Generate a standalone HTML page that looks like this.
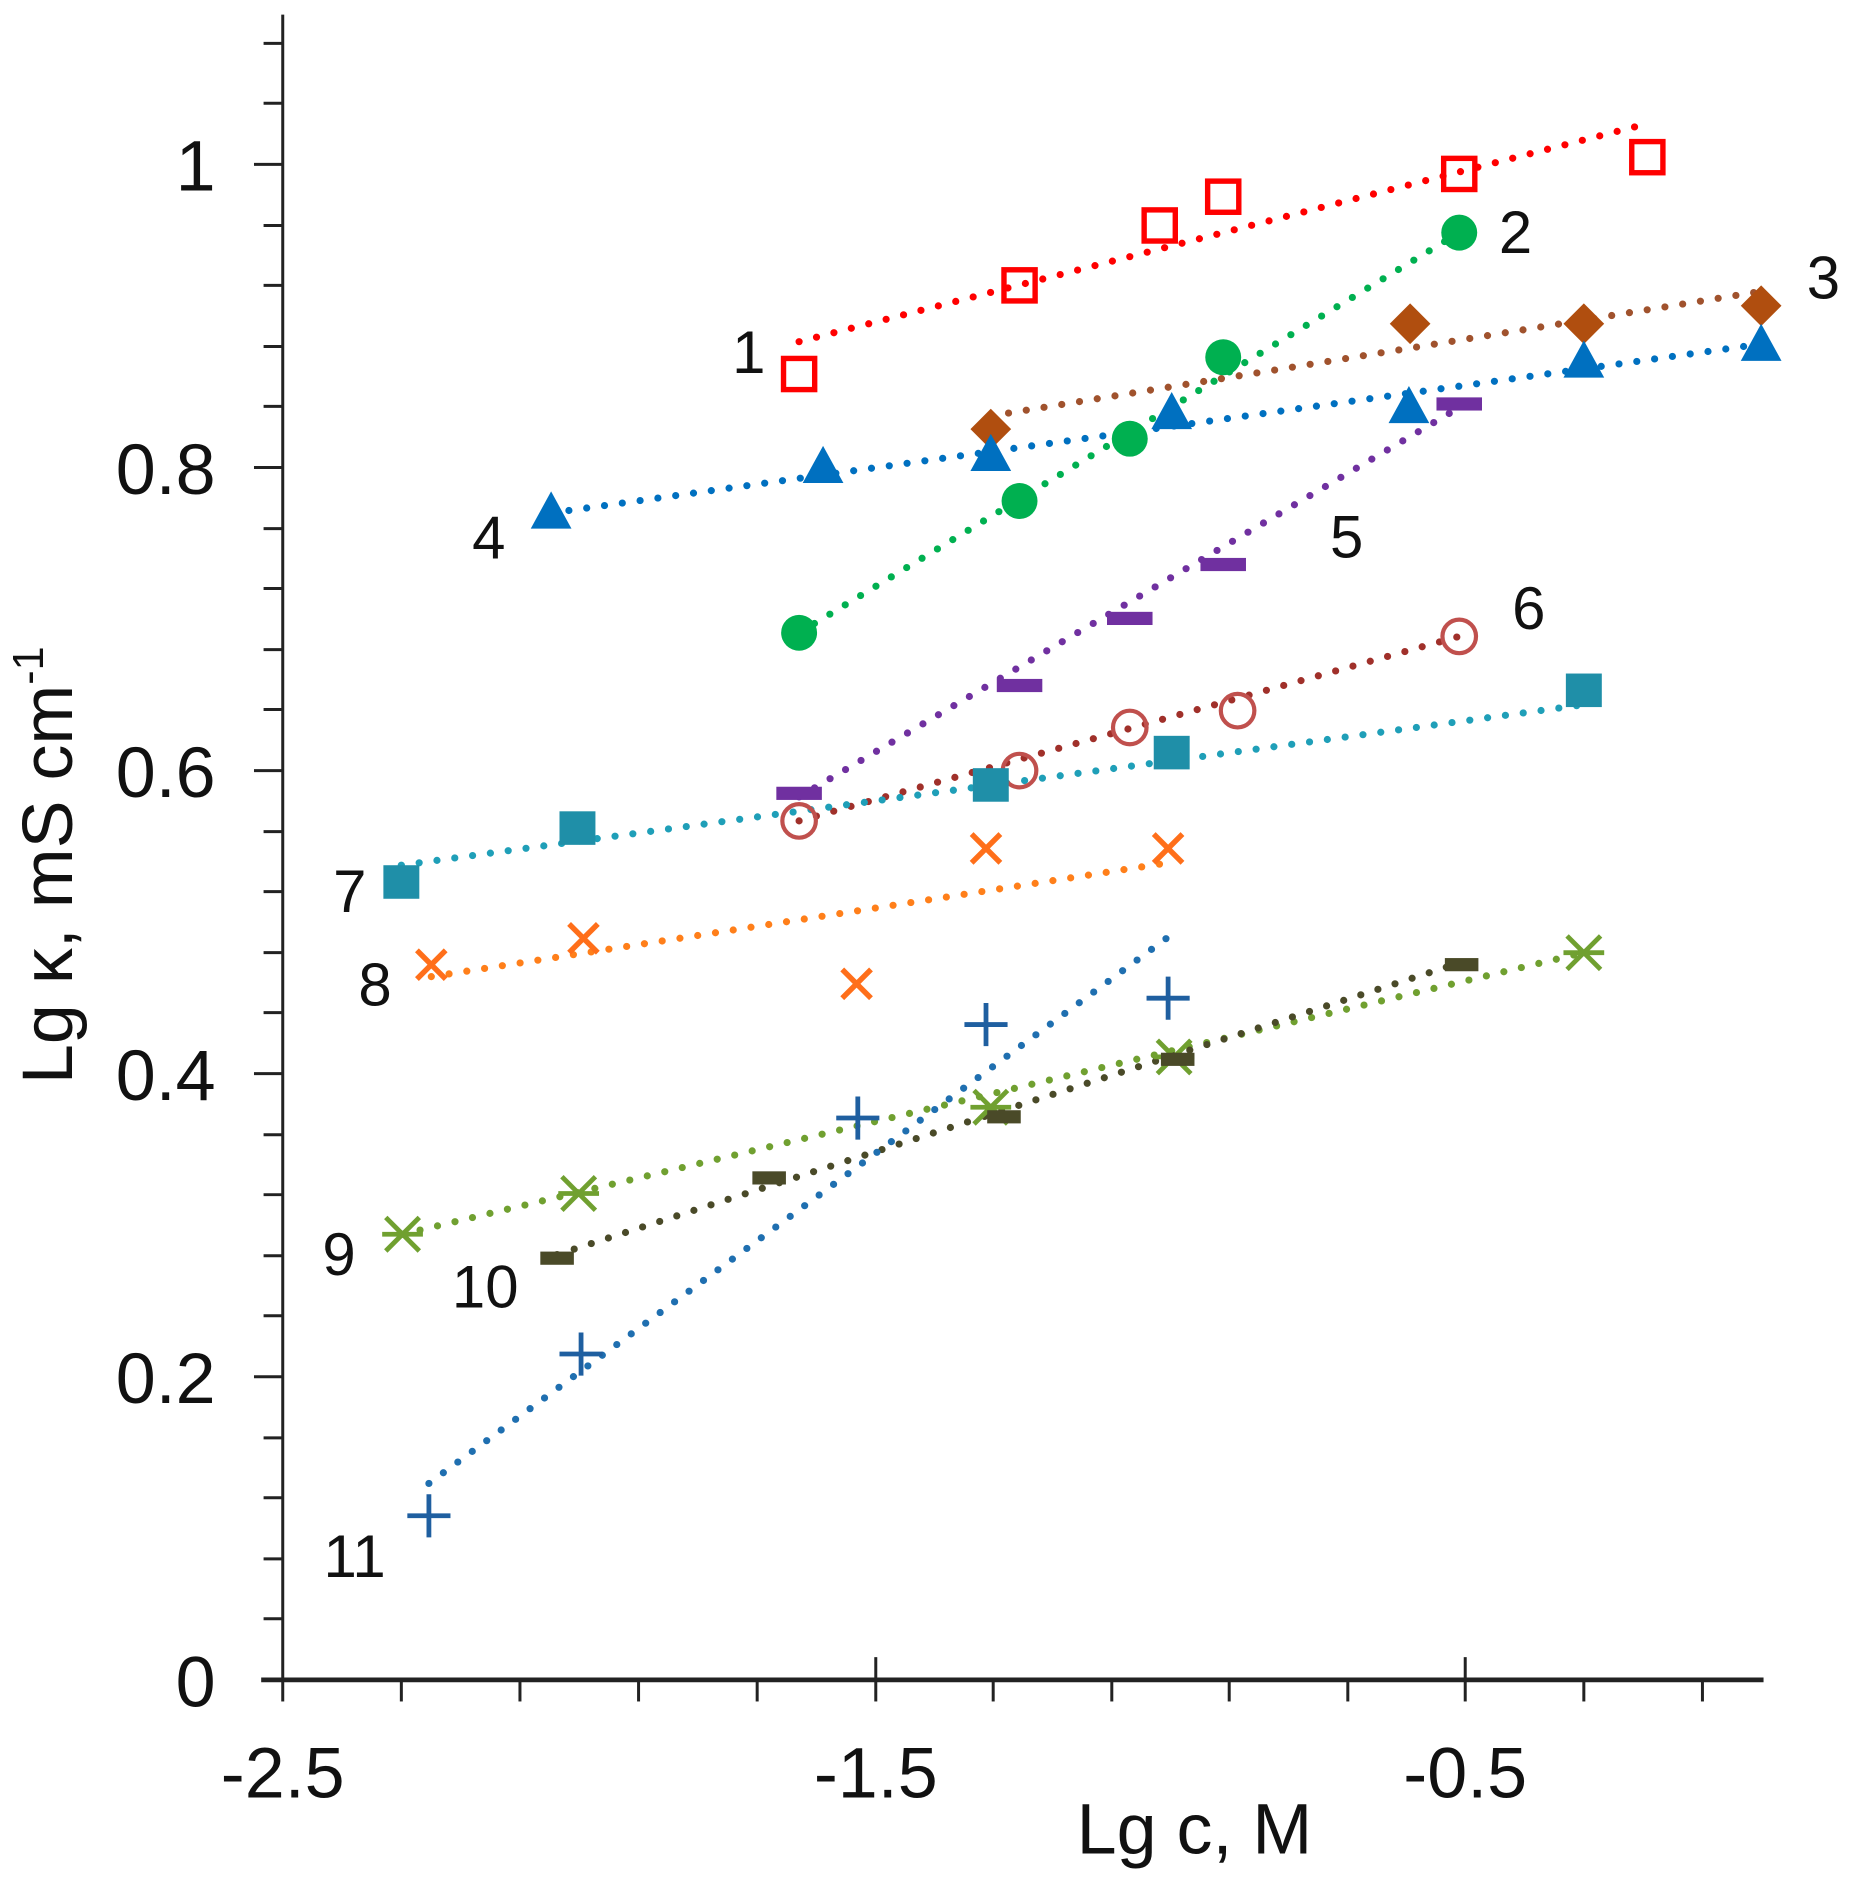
<!DOCTYPE html>
<html><head><meta charset="utf-8"><style>html,body{margin:0;padding:0;background:#fff}svg{display:block}</style></head>
<body>
<svg width="1851" height="1879" viewBox="0 0 1545 1568" xmlns="http://www.w3.org/2000/svg" font-family="Liberation Sans, sans-serif">
<defs>
<g id="sq"><rect x="-13" y="-13" width="26" height="26" fill="none" stroke="#ff0000" stroke-width="4.5"/></g>
<g id="ci"><circle r="15" fill="#00b050"/></g>
<g id="di"><path d="M0,-17 L17,0 L0,17 L-17,0Z" fill="#b04e0f"/></g>
<g id="tr"><path d="M0,-18 L17,13 L-17,13Z" fill="#0070c0"/></g>
<g id="pd"><rect x="-19" y="-5.5" width="38" height="11" fill="#7030a0"/></g>
<g id="oc"><circle r="14" fill="none" stroke="#c0504d" stroke-width="3.5"/></g>
<g id="ts"><rect x="-15" y="-14" width="30" height="28" fill="#1f8fa8"/></g>
<g id="xx"><path d="M-12,-12 L12,12 M-12,12 L12,-12" stroke="#ff6f1a" stroke-width="4.5"/></g>
<g id="as"><path d="M-14,-14 L14,14 M-14,14 L14,-14 M-17,0 L17,0" stroke="#70a030" stroke-width="4"/></g>
<g id="od"><rect x="-14" y="-5.5" width="28" height="11" fill="#4a4a28"/></g>
<g id="pl"><path d="M-18,0 L18,0 M0,-18 L0,18" stroke="#1f5fa0" stroke-width="4"/></g>
</defs>
<g fill="none" stroke-linecap="round" stroke-width="6" stroke-dasharray="0 15">
<line x1="667" y1="285" x2="1375" y2="103" stroke="#ff0000"/>
<line x1="667" y1="528" x2="1218" y2="194" stroke="#00b050"/>
<line x1="827" y1="347" x2="1470" y2="243" stroke="#a0522d"/>
<line x1="460" y1="428" x2="1470" y2="287" stroke="#0070c0"/>
<line x1="667" y1="665" x2="1218" y2="340" stroke="#7030a0"/>
<line x1="667" y1="685" x2="1218" y2="531" stroke="#a0302a"/>
<line x1="335" y1="722" x2="1322" y2="588" stroke="#1f9fb8"/>
<line x1="360" y1="815" x2="975" y2="720" stroke="#ff7f1a"/>
<line x1="336" y1="1030" x2="1322" y2="795" stroke="#70a030"/>
<line x1="465" y1="1047" x2="1220" y2="803" stroke="#4a4a28"/>
<line x1="358" y1="1238" x2="975" y2="782" stroke="#1f6fb0"/>
</g>
<g>
<use href="#sq" x="667" y="312"/><use href="#sq" x="851" y="238"/><use href="#sq" x="968" y="188"/><use href="#sq" x="1021" y="164"/><use href="#sq" x="1218" y="145"/><use href="#sq" x="1375" y="131"/>
<use href="#ci" x="667" y="528"/><use href="#ci" x="851" y="418"/><use href="#ci" x="943" y="366"/><use href="#ci" x="1021" y="298"/><use href="#ci" x="1218" y="194"/>
<use href="#di" x="827" y="358"/><use href="#di" x="1177" y="270"/><use href="#di" x="1322" y="270"/><use href="#di" x="1470" y="255"/>
<use href="#tr" x="460" y="428"/><use href="#tr" x="687" y="390"/><use href="#tr" x="827" y="380"/><use href="#tr" x="978" y="345"/><use href="#tr" x="1176" y="340"/><use href="#tr" x="1322" y="302"/><use href="#tr" x="1470" y="288"/>
<use href="#pd" x="667" y="662"/><use href="#pd" x="851" y="572"/><use href="#pd" x="943" y="516"/><use href="#pd" x="1021" y="471"/><use href="#pd" x="1218" y="337"/>
<use href="#oc" x="667" y="685"/><use href="#oc" x="851" y="643"/><use href="#oc" x="943" y="607"/><use href="#oc" x="1033" y="593"/><use href="#oc" x="1218" y="531"/>
<use href="#ts" x="335" y="736"/><use href="#ts" x="482" y="691"/><use href="#ts" x="827" y="655"/><use href="#ts" x="978" y="628"/><use href="#ts" x="1322" y="576"/>
<use href="#xx" x="360" y="805"/><use href="#xx" x="487" y="783"/><use href="#xx" x="715" y="821"/><use href="#xx" x="823" y="708"/><use href="#xx" x="975" y="708"/>
<use href="#as" x="336" y="1030"/><use href="#as" x="483" y="996"/><use href="#as" x="827" y="924"/><use href="#as" x="980" y="882"/><use href="#as" x="1322" y="795"/>
<use href="#od" x="465" y="1050"/><use href="#od" x="642" y="983"/><use href="#od" x="838" y="932"/><use href="#od" x="983" y="884"/><use href="#od" x="1220" y="805"/>
<use href="#pl" x="358" y="1265"/><use href="#pl" x="485" y="1130"/><use href="#pl" x="716" y="933"/><use href="#pl" x="823" y="855"/><use href="#pl" x="975" y="833"/>
</g>
<g stroke="#222" stroke-width="2.5">
<line x1="236" y1="12" x2="236" y2="1402"/>
<line x1="218" y1="1402" x2="1472" y2="1402" stroke-width="4"/>
<line x1="212" y1="137" x2="236" y2="137"/><line x1="212" y1="390" x2="236" y2="390"/><line x1="212" y1="643" x2="236" y2="643"/><line x1="212" y1="896" x2="236" y2="896"/><line x1="212" y1="1149" x2="236" y2="1149"/>
<line x1="220" y1="36" x2="236" y2="36"/><line x1="220" y1="86" x2="236" y2="86"/>
<line x1="220" y1="188" x2="236" y2="188"/><line x1="220" y1="238" x2="236" y2="238"/><line x1="220" y1="289" x2="236" y2="289"/><line x1="220" y1="339" x2="236" y2="339"/>
<line x1="220" y1="441" x2="236" y2="441"/><line x1="220" y1="491" x2="236" y2="491"/><line x1="220" y1="542" x2="236" y2="542"/><line x1="220" y1="592" x2="236" y2="592"/>
<line x1="220" y1="694" x2="236" y2="694"/><line x1="220" y1="744" x2="236" y2="744"/><line x1="220" y1="795" x2="236" y2="795"/><line x1="220" y1="845" x2="236" y2="845"/>
<line x1="220" y1="947" x2="236" y2="947"/><line x1="220" y1="997" x2="236" y2="997"/><line x1="220" y1="1048" x2="236" y2="1048"/><line x1="220" y1="1098" x2="236" y2="1098"/>
<line x1="220" y1="1200" x2="236" y2="1200"/><line x1="220" y1="1250" x2="236" y2="1250"/><line x1="220" y1="1301" x2="236" y2="1301"/><line x1="220" y1="1351" x2="236" y2="1351"/>
<line x1="236" y1="1402" x2="236" y2="1420"/><line x1="335" y1="1402" x2="335" y2="1420"/><line x1="434" y1="1402" x2="434" y2="1420"/><line x1="533" y1="1402" x2="533" y2="1420"/><line x1="632" y1="1402" x2="632" y2="1420"/>
<line x1="731" y1="1383" x2="731" y2="1420"/><line x1="829" y1="1402" x2="829" y2="1420"/><line x1="928" y1="1402" x2="928" y2="1420"/><line x1="1026" y1="1402" x2="1026" y2="1420"/><line x1="1125" y1="1402" x2="1125" y2="1420"/>
<line x1="1223" y1="1383" x2="1223" y2="1420"/><line x1="1322" y1="1402" x2="1322" y2="1420"/><line x1="1421" y1="1402" x2="1421" y2="1420"/>
</g>
<g font-size="60" fill="#111" text-anchor="end">
<text x="180" y="159">1</text><text x="180" y="412">0.8</text><text x="180" y="665">0.6</text><text x="180" y="918">0.4</text><text x="180" y="1171">0.2</text><text x="180" y="1424">0</text>
</g>
<g font-size="60" fill="#111" text-anchor="middle">
<text x="236" y="1500">-2.5</text><text x="731" y="1500">-1.5</text><text x="1223" y="1500">-0.5</text>
<text x="997" y="1547">Lg c, M</text>
<text transform="translate(60,722) rotate(-90)">Lg κ, mS cm<tspan font-size="36" dy="-24">-1</tspan></text>
</g>
<g font-size="50" fill="#111" text-anchor="middle">
<text x="625" y="311">1</text><text x="1265" y="211">2</text><text x="1522" y="249">3</text><text x="408" y="466">4</text><text x="1124" y="465">5</text><text x="1276" y="525">6</text><text x="292" y="761">7</text><text x="313" y="839">8</text><text x="283" y="1064">9</text><text x="405" y="1091">10</text><text x="296" y="1316">11</text>
</g>
</svg>
</body></html>
